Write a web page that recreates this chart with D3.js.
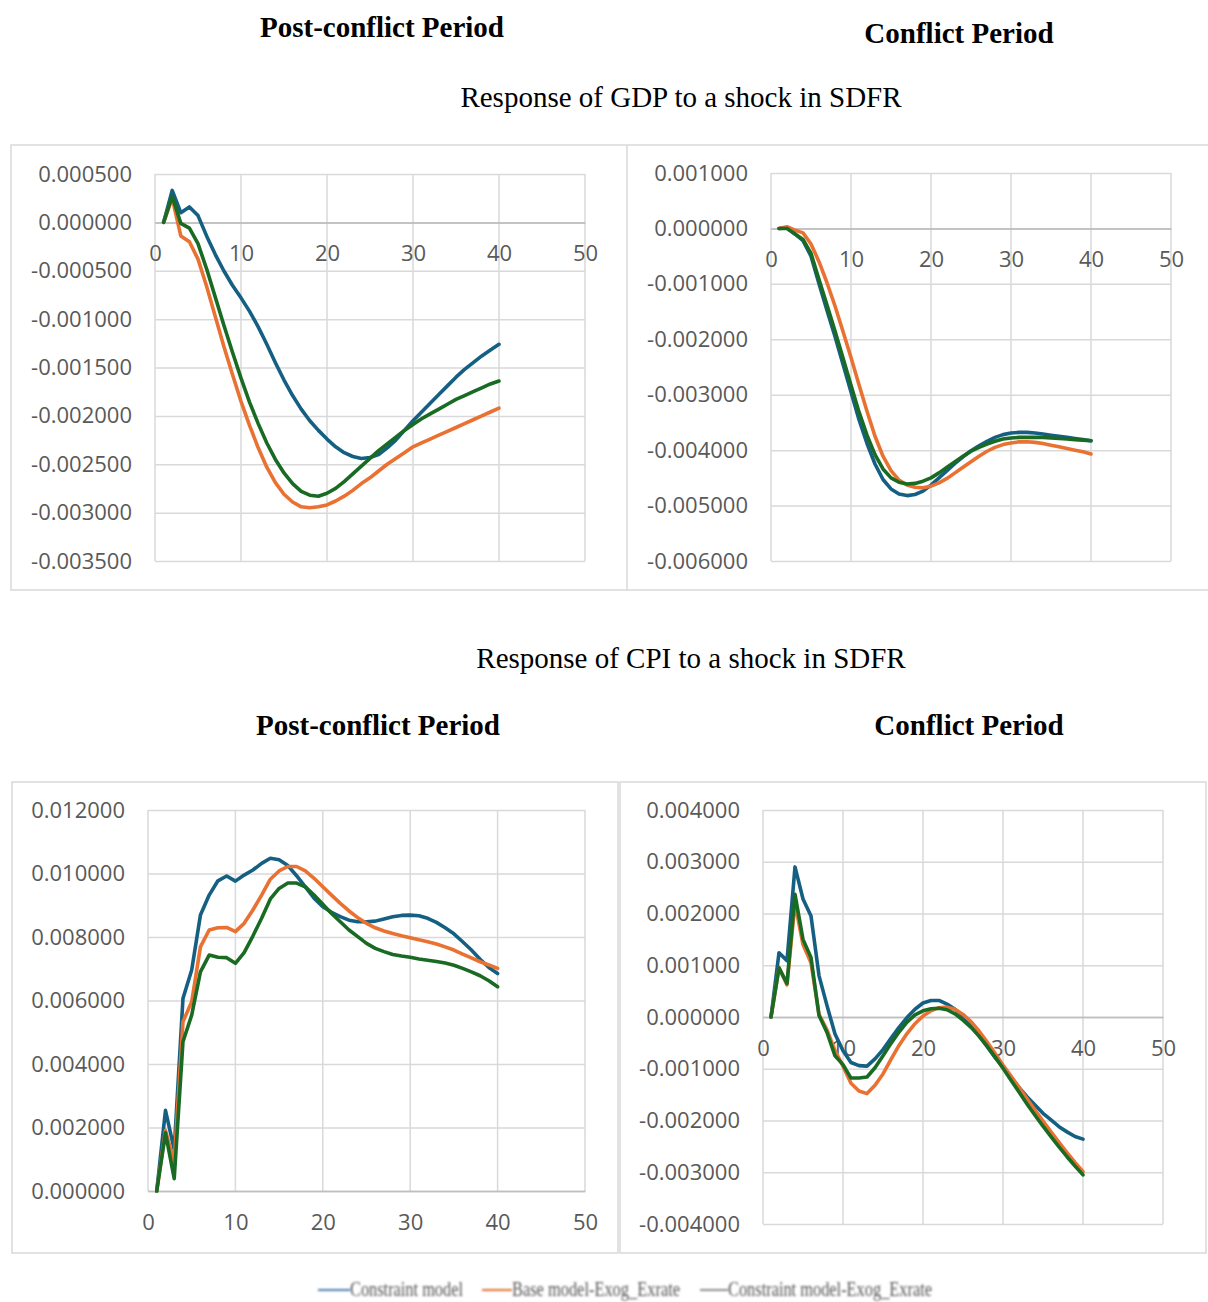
<!DOCTYPE html>
<html>
<head>
<meta charset="utf-8">
<script src="https://cdn.jsdelivr.net/npm/d3@7"></script>
<style>
  html, body { margin: 0; padding: 0; background: #ffffff; }
  svg { display: block; }
</style>
</head>
<body>
<svg id="chart" width="1208" height="1302"></svg>
<script>
// Horizon (periods after the shock)
const periods = [1,2,3,4,5,6,7,8,9,10,11,12,13,14,15,16,17,18,19,20,
                 21,22,23,24,25,26,27,28,29,30,31,32,33,34,35,36,37,38,39,40];
const xTicks = [0, 10, 20, 30, 40, 50];

// Series names
const seriesNames = ["Constraint model", "Base model-Exog_Exrate", "Constraint model-Exog_Exrate"];

// Response of GDP — post-conflict period
const gdpPostConstraint = [0, 0.00033, 0.00010, 0.00016, 0.00007, -0.00014, -0.00033, -0.00050, -0.00065, -0.00078,
  -0.00092, -0.00108, -0.00126, -0.00145, -0.00163, -0.00179, -0.00193, -0.00205, -0.00215, -0.00224,
  -0.00232, -0.00238, -0.00242, -0.00244, -0.00243, -0.00240, -0.00233, -0.00225, -0.00215, -0.00205,
  -0.00196, -0.00187, -0.00178, -0.00169, -0.00160, -0.00152, -0.00145, -0.00138, -0.00132, -0.00126];
const gdpPostBase = [0, 0.00025, -0.00014, -0.00020, -0.00038, -0.00066, -0.00097, -0.00128, -0.00157, -0.00185,
  -0.00210, -0.00233, -0.00253, -0.00269, -0.00281, -0.00289, -0.00294, -0.00295, -0.00294, -0.00292,
  -0.00288, -0.00283, -0.00277, -0.00270, -0.00264, -0.00257, -0.00250, -0.00244, -0.00238, -0.00232,
  -0.00228, -0.00224, -0.00220, -0.00216, -0.00212, -0.00208, -0.00204, -0.00200, -0.00196, -0.00192];
const gdpPostConstraintExog = [0, 0.00027, -0.00001, -0.00006, -0.00022, -0.00048, -0.00077, -0.00106, -0.00134, -0.00161,
  -0.00186, -0.00208, -0.00228, -0.00245, -0.00259, -0.00270, -0.00278, -0.00282, -0.00283, -0.00280,
  -0.00275, -0.00268, -0.00260, -0.00252, -0.00244, -0.00236, -0.00229, -0.00222, -0.00215, -0.00209,
  -0.00203, -0.00198, -0.00193, -0.00188, -0.00183, -0.00179, -0.00175, -0.00171, -0.00167, -0.00164];
const gdpPostTicks = [0.0005, 0, -0.0005, -0.001, -0.0015, -0.002, -0.0025, -0.003, -0.0035];

// Response of GDP — conflict period
const gdpConfConstraint = [0, 0.00001, -0.00010, -0.00022, -0.00050, -0.00100, -0.00148, -0.00195, -0.00245, -0.00295,
  -0.00345, -0.00388, -0.00425, -0.00453, -0.00470, -0.00479, -0.00482, -0.00480, -0.00474, -0.00463,
  -0.00450, -0.00437, -0.00424, -0.00412, -0.00401, -0.00392, -0.00384, -0.00377, -0.00372, -0.00369,
  -0.00368, -0.00368, -0.00369, -0.00371, -0.00373, -0.00375, -0.00377, -0.00379, -0.00381, -0.00383];
const gdpConfBase = [0, 0.00003, -0.00003, -0.00008, -0.00028, -0.00060, -0.00098, -0.00140, -0.00186, -0.00233,
  -0.00282, -0.00330, -0.00375, -0.00411, -0.00437, -0.00454, -0.00463, -0.00467, -0.00468, -0.00465,
  -0.00459, -0.00451, -0.00441, -0.00431, -0.00421, -0.00411, -0.00402, -0.00395, -0.00390, -0.00387,
  -0.00385, -0.00385, -0.00386, -0.00388, -0.00391, -0.00394, -0.00397, -0.00400, -0.00403, -0.00407];
const gdpConfConstraintExog = [0, 0, -0.00010, -0.00020, -0.00045, -0.00092, -0.00138, -0.00185, -0.00234, -0.00283,
  -0.00331, -0.00373, -0.00408, -0.00434, -0.00450, -0.00458, -0.00461, -0.00460, -0.00456, -0.00450,
  -0.00441, -0.00431, -0.00421, -0.00411, -0.00402, -0.00395, -0.00389, -0.00384, -0.00380, -0.00378,
  -0.00377, -0.00377, -0.00377, -0.00377, -0.00378, -0.00379, -0.00380, -0.00381, -0.00382, -0.00383];
const gdpConfTicks = [0.001, 0, -0.001, -0.002, -0.003, -0.004, -0.005, -0.006];

// Response of CPI — post-conflict period
const cpiPostConstraint = [0, 0.00254, 0.00130, 0.00606, 0.00696, 0.00869, 0.00932, 0.00977, 0.00992, 0.00976,
  0.00995, 0.01011, 0.01032, 0.01048, 0.01043, 0.01025, 0.00993, 0.00958, 0.00922, 0.00895,
  0.00878, 0.00864, 0.00853, 0.00848, 0.00848, 0.00850, 0.00857, 0.00864, 0.00868, 0.00869,
  0.00867, 0.00859, 0.00846, 0.00829, 0.00810, 0.00785, 0.00759, 0.00730, 0.00704, 0.00685];
const cpiPostBase = [0, 0.00191, 0.00090, 0.00533, 0.00596, 0.00769, 0.00822, 0.00829, 0.00830, 0.00817,
  0.00843, 0.00885, 0.00932, 0.00982, 0.01008, 0.01022, 0.01022, 0.01008, 0.00985, 0.00958,
  0.00932, 0.00906, 0.00882, 0.00861, 0.00843, 0.00829, 0.00819, 0.00811, 0.00804, 0.00798,
  0.00791, 0.00785, 0.00778, 0.00769, 0.00759, 0.00746, 0.00734, 0.00722, 0.00712, 0.00701];
const cpiPostConstraintExog = [0, 0.00183, 0.00039, 0.00470, 0.00554, 0.00690, 0.00743, 0.00736, 0.00735, 0.00717,
  0.00751, 0.00803, 0.00859, 0.00920, 0.00953, 0.00970, 0.00970, 0.00958, 0.00932, 0.00903,
  0.00874, 0.00848, 0.00822, 0.00801, 0.00780, 0.00764, 0.00754, 0.00745, 0.00740, 0.00736,
  0.00731, 0.00727, 0.00723, 0.00718, 0.00711, 0.00701, 0.00690, 0.00678, 0.00662, 0.00643];
const cpiPostTicks = [0.012, 0.010, 0.008, 0.006, 0.004, 0.002, 0];

// Response of CPI — conflict period
const cpiConfConstraint = [0, 0.00124, 0.00109, 0.00290, 0.00228, 0.00195, 0.00080, 0.00022, -0.00033, -0.00065,
  -0.00088, -0.00094, -0.00095, -0.00081, -0.00063, -0.00041, -0.00020, -0.00001, 0.00015, 0.00027,
  0.00032, 0.00032, 0.00025, 0.00015, 0.00001, -0.00017, -0.00036, -0.00057, -0.00078, -0.00097,
  -0.00117, -0.00136, -0.00154, -0.00170, -0.00186, -0.00199, -0.00212, -0.00222, -0.00231, -0.00236];
const cpiConfBase = [0, 0.00095, 0.00062, 0.00220, 0.00140, 0.00105, 0.00005, -0.00025, -0.00065, -0.00095,
  -0.00128, -0.00143, -0.00148, -0.00132, -0.00110, -0.00082, -0.00055, -0.00032, -0.00013, 0.00002,
  0.00012, 0.00018, 0.00019, 0.00015, 0.00005, -0.00009, -0.00027, -0.00048, -0.00070, -0.00093,
  -0.00114, -0.00136, -0.00158, -0.00180, -0.00201, -0.00222, -0.00242, -0.00262, -0.00281, -0.00299];
const cpiConfConstraintExog = [0, 0.00095, 0.00065, 0.00237, 0.00150, 0.00115, 0.00003, -0.00030, -0.00075, -0.00092,
  -0.00118, -0.00118, -0.00116, -0.00098, -0.00075, -0.00051, -0.00029, -0.00010, 0.00004, 0.00012,
  0.00016, 0.00017, 0.00014, 0.00006, -0.00006, -0.00020, -0.00037, -0.00056, -0.00077, -0.00099,
  -0.00122, -0.00145, -0.00168, -0.00190, -0.00211, -0.00231, -0.00251, -0.00270, -0.00288, -0.00305];
const cpiConfTicks = [0.004, 0.003, 0.002, 0.001, 0, -0.001, -0.002, -0.003, -0.004];

// ---------------------------------------------------------------------------
const seriesColors = ["#156082", "#E97132", "#196B24"];
const legendColors = ["#4a7fb5", "#e0702e", "#8c8c8c"];
const gridColor = "#d9d9d9";
const axisColor = "#bfbfbf";
const labelColor = "#595959";
const tickFont = "'Open Sans', 'Liberation Sans', sans-serif";
const serifFont = "'Liberation Serif', 'Times New Roman', serif";

const svg = d3.select("#chart");
svg.append("rect").attr("width", 1208).attr("height", 1302).attr("fill", "#fff");

// Chart frames
const frames = svg.append("g").attr("fill", "none").attr("stroke", gridColor).attr("stroke-width", 1.5);
frames.append("rect").attr("x", 11).attr("y", 145).attr("width", 1200).attr("height", 445);
frames.append("line").attr("x1", 627).attr("x2", 627).attr("y1", 145).attr("y2", 590);
frames.append("rect").attr("x", 12).attr("y", 782).attr("width", 606).attr("height", 471);
frames.append("rect").attr("x", 620).attr("y", 782).attr("width", 586).attr("height", 471);

// Titles
function title(text, x, y, bold) {
  svg.append("text")
    .attr("x", x).attr("y", y)
    .attr("text-anchor", "middle")
    .attr("font-family", serifFont)
    .attr("font-size", 29)
    .attr("font-weight", bold ? "bold" : "normal")
    .attr("fill", "#000")
    .text(text);
}
title("Post-conflict Period", 382, 37, true);
title("Conflict Period", 959, 43, true);
title("Response of GDP to a shock in SDFR", 681, 107, false);
title("Response of CPI to a shock in SDFR", 691, 668, false);
title("Post-conflict Period", 378, 735, true);
title("Conflict Period", 969, 735, true);

// One panel: gridlines, tick labels and the three response lines
function panel(cfg) {
  const g = svg.append("g");
  const yExtent = d3.extent(cfg.yTicks);
  const x = d3.scaleLinear().domain([0, 50]).range([cfg.left, cfg.right]);
  const y = d3.scaleLinear().domain(yExtent).range([cfg.bottom, cfg.top]);

  // vertical gridlines
  g.append("g").selectAll("line").data(xTicks).join("line")
    .attr("x1", d => x(d)).attr("x2", d => x(d))
    .attr("y1", cfg.top).attr("y2", cfg.bottom)
    .attr("stroke", gridColor).attr("stroke-width", 1.5);

  // horizontal gridlines via axis generator
  const yAxis = d3.axisLeft(y).tickValues(cfg.yTicks)
    .tickSize(-(cfg.right - cfg.left)).tickPadding(23)
    .tickFormat(d => d.toFixed(6));
  const ya = g.append("g").attr("transform", `translate(${cfg.left},0)`).call(yAxis);
  ya.select(".domain").remove();
  ya.selectAll(".tick line").attr("stroke", d => d === 0 ? axisColor : gridColor).attr("stroke-width", 1.5);
  ya.selectAll(".tick text")
    .attr("font-family", tickFont).attr("font-size", 22).attr("fill", labelColor);

  // category axis crossing at zero
  const y0 = y(0);
  const xAxis = d3.axisBottom(x).tickValues(xTicks).tickSize(0).tickPadding(23)
    .tickFormat(d3.format("d"));
  const xa = g.append("g").attr("transform", `translate(0,${y0})`).call(xAxis);
  xa.select(".domain").attr("stroke", axisColor).attr("stroke-width", 1.5);
  xa.selectAll(".tick text")
    .attr("font-family", tickFont).attr("font-size", 22).attr("fill", labelColor);

  const line = d3.line().x((d, i) => x(periods[i])).y(d => y(d));
  g.append("g").selectAll("path").data(cfg.series).join("path")
    .attr("d", d => line(d))
    .attr("fill", "none")
    .attr("stroke", (d, i) => seriesColors[i])
    .attr("stroke-width", 3.6)
    .attr("stroke-linejoin", "round")
    .attr("stroke-linecap", "round");
}

panel({ left: 155, right: 585, top: 174, bottom: 561, yTicks: gdpPostTicks,
        series: [gdpPostConstraint, gdpPostBase, gdpPostConstraintExog] });
panel({ left: 771, right: 1171, top: 173, bottom: 561, yTicks: gdpConfTicks,
        series: [gdpConfConstraint, gdpConfBase, gdpConfConstraintExog] });
panel({ left: 148, right: 585, top: 810, bottom: 1191, yTicks: cpiPostTicks,
        series: [cpiPostConstraint, cpiPostBase, cpiPostConstraintExog] });
panel({ left: 763, right: 1163, top: 810, bottom: 1224, yTicks: cpiConfTicks,
        series: [cpiConfConstraint, cpiConfBase, cpiConfConstraintExog] });

// Legend (soft, condensed serif)
const defs = svg.append("defs");
defs.append("filter").attr("id", "soft")
  .append("feGaussianBlur").attr("stdDeviation", 0.8);
const legendItems = [
  { x0: 318, x1: 350, tx: 350, tw: 113 },
  { x0: 482, x1: 512, tx: 512, tw: 168 },
  { x0: 700, x1: 728, tx: 728, tw: 204 }
];
const lg = svg.append("g").attr("filter", "url(#soft)");
lg.selectAll("line").data(legendItems).join("line")
  .attr("x1", d => d.x0).attr("x2", d => d.x1)
  .attr("y1", 1290).attr("y2", 1290)
  .attr("stroke", (d, i) => legendColors[i]).attr("stroke-width", 2);
lg.selectAll("text").data(legendItems).join("text")
  .attr("x", d => d.tx).attr("y", 1296)
  .attr("font-family", serifFont).attr("font-size", 21)
  .attr("fill", "#555")
  .attr("textLength", d => d.tw)
  .attr("lengthAdjust", "spacingAndGlyphs")
  .text((d, i) => seriesNames[i]);
</script>
</body>
</html>
